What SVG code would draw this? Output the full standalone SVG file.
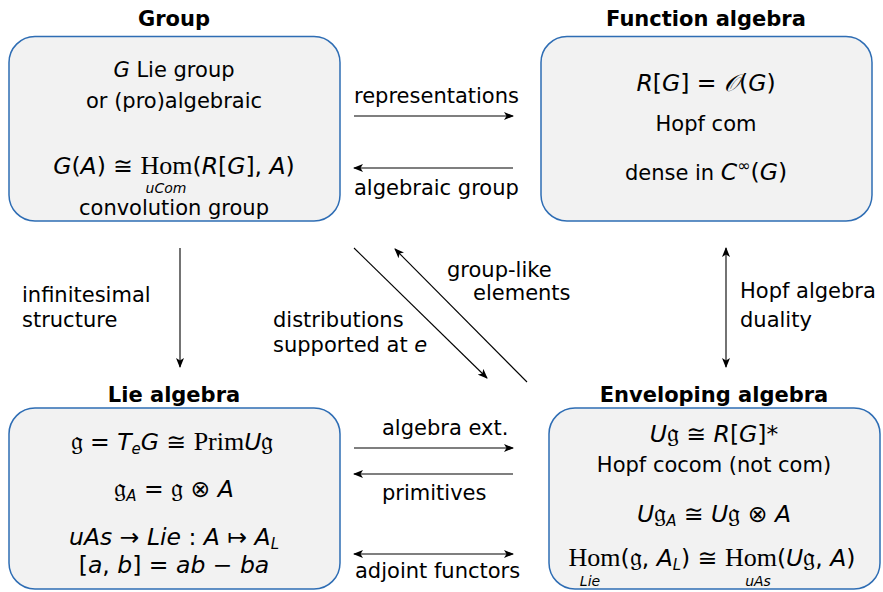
<svg xmlns="http://www.w3.org/2000/svg" width="883" height="592" viewBox="0 0 883 592">
  <defs>
    <style>
      .box { fill: #f2f2f2; stroke: #2e6db4; stroke-width: 1.5; }
      .title { font-family: "DejaVu Sans", "Liberation Sans", sans-serif; font-weight: bold; font-size: 21px; fill: #000; text-anchor: middle; }
      .t { font-family: "DejaVu Sans", "Liberation Sans", sans-serif; font-size: 21px; fill: #000; }
      .m { font-size: 23.5px; }
      .c { text-anchor: middle; }
      .i { font-style: italic; }
      .rm { font-family: "Liberation Serif", "DejaVu Serif", serif; font-style: normal; font-size: 26px; }
      .fk { font-size: 27px; }
      .lo { font-size: 15px; font-style: italic; }
      .sub { font-size: 14px; font-style: italic; }
      .edge { stroke: #000; stroke-width: 1.1; fill: none; }
    </style>
    <marker id="tip" viewBox="0 0 10 8" refX="9" refY="4" markerWidth="10" markerHeight="8" markerUnits="userSpaceOnUse" orient="auto-start-reverse">
      <path d="M0,0 L10,4 L0,8 L2.5,4 Z" fill="#000"/>
    </marker>
  </defs>

  <!-- Group -->
  <g id="group">
    <text class="title" x="174" y="26">Group</text>
    <rect class="box" x="9" y="36.5" width="331" height="184.5" rx="26"/>
    <text class="t c" x="174" y="77"><tspan class="i">G</tspan> Lie group</text>
    <text class="t c" x="174" y="108">or (pro)algebraic</text>
    <text class="t m c" x="174" y="174"><tspan class="i">G</tspan>(<tspan class="i">A</tspan>) ≅ <tspan class="rm">Hom</tspan>(<tspan class="i">R</tspan>[<tspan class="i">G</tspan>], <tspan class="i">A</tspan>)</text>
    <text class="t c sub" x="166" y="193">uCom</text>
    <text class="t c" x="174" y="215">convolution group</text>
  </g>

  <!-- Function algebra -->
  <g id="function-algebra">
    <text class="title" x="706" y="26">Function algebra</text>
    <rect class="box" x="541" y="36.5" width="331" height="184.5" rx="26"/>
    <text class="t m c" x="706" y="91"><tspan class="i">R</tspan>[<tspan class="i">G</tspan>] = <tspan class="i">𝒪</tspan>(<tspan class="i">G</tspan>)</text>
    <text class="t c" x="706" y="131">Hopf com</text>
    <text class="t c" x="706" y="180">dense in <tspan class="i" font-size="23.5">C</tspan><tspan font-size="16" dy="-9">∞</tspan><tspan font-size="23.5" dy="9">(</tspan><tspan class="i" font-size="23.5">G</tspan><tspan font-size="23.5">)</tspan></text>
  </g>

  <!-- Lie algebra -->
  <g id="lie-algebra">
    <text class="title" x="174" y="402">Lie algebra</text>
    <rect class="box" x="9" y="408" width="331" height="181" rx="26"/>
    <text class="t m c" x="172" y="450"><tspan class="fk">𝔤</tspan> = <tspan class="i">T</tspan><tspan class="lo" dy="4">e</tspan><tspan class="i" dy="-4">G</tspan> ≅ <tspan class="rm">Prim</tspan><tspan class="i">U</tspan><tspan class="fk">𝔤</tspan></text>
    <text class="t m c" x="174" y="497"><tspan class="fk">𝔤</tspan><tspan class="lo" dy="4">A</tspan><tspan dy="-4"> = </tspan><tspan class="fk">𝔤</tspan> ⊗ <tspan class="i">A</tspan></text>
    <text class="t m c" x="174" y="545"><tspan class="i">uAs</tspan> → <tspan class="i">Lie</tspan> : <tspan class="i">A</tspan> ↦ <tspan class="i">A</tspan><tspan class="lo" dy="4">L</tspan></text>
    <text class="t m c" x="174" y="573">[<tspan class="i">a</tspan>, <tspan class="i">b</tspan>] = <tspan class="i">ab</tspan> − <tspan class="i">ba</tspan></text>
  </g>

  <!-- Enveloping algebra -->
  <g id="enveloping-algebra">
    <text class="title" x="714" y="402">Enveloping algebra</text>
    <rect class="box" x="549" y="408" width="331" height="181" rx="26"/>
    <text class="t m c" x="714" y="442"><tspan class="i">U</tspan><tspan class="fk">𝔤</tspan> ≅ <tspan class="i">R</tspan>[<tspan class="i">G</tspan>]*</text>
    <text class="t c" x="714" y="472">Hopf cocom (not com)</text>
    <text class="t m c" x="714" y="522"><tspan class="i">U</tspan><tspan class="fk">𝔤</tspan><tspan class="lo" dy="4">A</tspan><tspan dy="-4"> ≅ </tspan><tspan class="i">U</tspan><tspan class="fk">𝔤</tspan> ⊗ <tspan class="i">A</tspan></text>
    <text class="t m c" x="712" y="566"><tspan class="rm">Hom</tspan>(<tspan class="fk">𝔤</tspan>, <tspan class="i">A</tspan><tspan class="lo" dy="4">L</tspan><tspan dy="-4">) ≅ </tspan><tspan class="rm">Hom</tspan>(<tspan class="i">U</tspan><tspan class="fk">𝔤</tspan>, <tspan class="i">A</tspan>)</text>
    <text class="t c sub" x="590" y="586">Lie</text>
    <text class="t c sub" x="758" y="586">uAs</text>
  </g>

  <!-- Connectors -->
  <g id="connectors">
    <line class="edge" x1="354" y1="116" x2="513" y2="116" marker-end="url(#tip)"/>
    <line class="edge" x1="513" y1="168" x2="354" y2="168" marker-end="url(#tip)"/>
    <line class="edge" x1="180" y1="248" x2="180" y2="367" marker-end="url(#tip)"/>
    <line class="edge" x1="726" y1="248" x2="726" y2="367" marker-start="url(#tip)" marker-end="url(#tip)"/>
    <line class="edge" x1="354" y1="248" x2="487" y2="378" marker-end="url(#tip)"/>
    <line class="edge" x1="527" y1="382" x2="395" y2="249" marker-end="url(#tip)"/>
    <line class="edge" x1="354" y1="448" x2="513" y2="448" marker-end="url(#tip)"/>
    <line class="edge" x1="513" y1="474" x2="354" y2="474" marker-end="url(#tip)"/>
    <line class="edge" x1="354" y1="554" x2="513" y2="554" marker-start="url(#tip)" marker-end="url(#tip)"/>

    <text class="t" x="354" y="103">representations</text>
    <text class="t" x="354" y="195">algebraic group</text>
    <text class="t" x="22" y="302">infinitesimal</text>
    <text class="t" x="22" y="327">structure</text>
    <text class="t" x="740" y="298">Hopf algebra</text>
    <text class="t" x="740" y="327">duality</text>
    <text class="t" x="447" y="277">group-like</text>
    <text class="t" x="473" y="300">elements</text>
    <text class="t" x="273" y="327">distributions</text>
    <text class="t" x="273" y="352">supported at <tspan class="i">e</tspan></text>
    <text class="t" x="382" y="435">algebra ext.</text>
    <text class="t" x="382" y="500">primitives</text>
    <text class="t" x="355" y="578">adjoint functors</text>
  </g>
</svg>
